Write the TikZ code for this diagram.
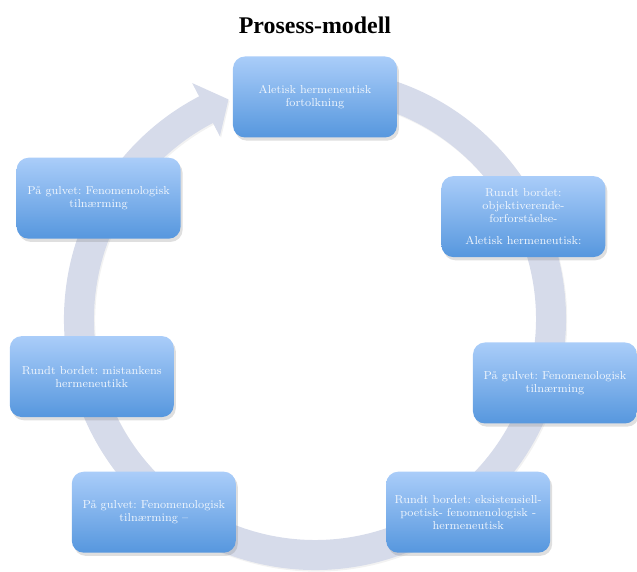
\documentclass[tikz,border=0pt]{standalone}
\usepackage{tikz}
\usetikzlibrary{shapes,arrows,shadows}
\usepackage{fontspec}
\newfontfamily\titlefont{Liberation Serif}
\usepackage[dvipsnames]{xcolor}
\frenchspacing

\definecolor{ringgray}{RGB}{214,219,234}
\definecolor{stagetop}{RGB}{170,205,249}
\definecolor{stagebottom}{RGB}{86,151,222}
\definecolor{stagetext}{RGB}{240,246,253}

\tikzset{
  stage/.style={rounded corners=0.3cm, top color=stagetop, bottom color=stagebottom, text=stagetext, minimum width=4.1cm, minimum height=2.025cm, inner sep=2pt, align=center, font=\fontsize{8.2}{9.2}\selectfont, drop shadow={shadow xshift=0.5mm, shadow yshift=-0.8mm, opacity=0.25}},
  ring/.style={fill=ringgray, drop shadow={shadow xshift=0.3mm, shadow yshift=-0.4mm, opacity=0.1}}
}

\begin{document}
\begin{tikzpicture}
\useasboundingbox (-7.875,-11.875) rectangle (8.05,2.425);

% cycle arrow behind the boxes
\begin{scope}[shift={(0,-5.55)}]
\path[ring] (80:6.275) arc[start angle=80, end angle=-242.5, radius=6.275] -- (117.5:6.65) -- (111.5:5.9) -- (117.5:5.15) -- (117.5:5.525) arc[start angle=-242.5, end angle=80, radius=5.525] -- cycle;
\end{scope}

\node[font=\titlefont\bfseries\fontsize{17}{20}\selectfont, yshift=1.8cm] (title) {Prosess-modell};

\node[stage] (A) {Aletisk hermeneutisk\\ fortolkning};
\node[stage, xshift=5.21cm, yshift=-2.99cm] (B) {Rundt bordet:\\ objektiverende-\\ forforståelse-\\[6pt] Aletisk hermeneutisk:};
\node[stage, xshift=6.0cm, yshift=-7.15cm] (C) {På gulvet: Fenomenologisk\\ tilnærming};
\node[stage, xshift=3.83cm, yshift=-10.38cm] (D) {Rundt bordet: eksistensiell-\\ poetisk- fenomenologisk -\\ hermeneutisk};
\node[stage, xshift=-4.03cm, yshift=-10.38cm] (E) {På gulvet: Fenomenologisk\\ tilnærming --};
\node[stage, xshift=-5.58cm, yshift=-6.99cm] (F) {Rundt bordet: mistankens\\ hermeneutikk};
\node[stage, xshift=-5.41cm, yshift=-2.53cm] (G) {På gulvet: Fenomenologisk\\ tilnærming};
\end{tikzpicture}
\end{document}
